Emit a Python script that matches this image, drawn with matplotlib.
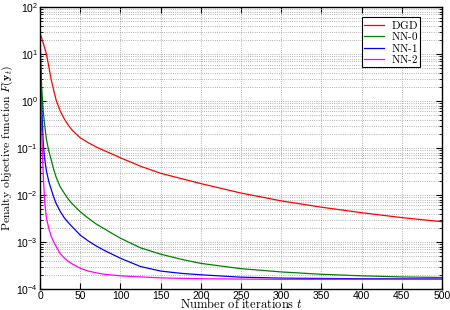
import numpy as np
import matplotlib
matplotlib.use('Agg')
import matplotlib.pyplot as plt
from matplotlib.ticker import LogLocator, MultipleLocator, NullFormatter

plt.rcParams['font.family'] = ['Liberation Sans', 'DejaVu Sans']

t = [0, 1, 2, 4, 6, 8, 11, 14, 17, 20, 25, 30, 35, 40, 50, 60, 70, 80,
     100, 125, 150, 175, 200, 250, 300, 350, 400, 450, 500]

dgd = [27, 25, 22, 17, 13, 10, 5.3, 2.8, 1.7, 1.05, 0.62, 0.42, 0.31, 0.24,
       0.165, 0.13, 0.105, 0.088, 0.062, 0.041, 0.029, 0.0225, 0.0175, 0.011,
       0.0075, 0.0055, 0.0042, 0.0033, 0.0027]
nn0 = [27, 6, 2, 0.6, 0.28, 0.15, 0.085, 0.055, 0.035, 0.024, 0.015, 0.011,
       0.0082, 0.0065, 0.0044, 0.0032, 0.0024, 0.0019, 0.0012, 7.5e-4, 5.5e-4,
       4.3e-4, 3.5e-4, 2.7e-4, 2.3e-4, 2.05e-4, 1.9e-4, 1.8e-4, 1.75e-4]
nn1 = [27, 3, 0.8, 0.12, 0.055, 0.032, 0.019, 0.013, 0.009, 0.0066, 0.0045,
       0.0033, 0.0026, 0.0021, 0.0014, 0.00105, 8.2e-4, 6.6e-4, 4.5e-4, 3e-4,
       2.4e-4, 2.15e-4, 2e-4, 1.78e-4, 1.7e-4, 1.67e-4, 1.65e-4, 1.64e-4, 1.63e-4]
nn2 = [27, 1.5, 0.25, 0.025, 0.0065, 0.0032, 0.0019, 0.0013, 0.001, 8e-4,
       5.7e-4, 4.6e-4, 3.9e-4, 3.4e-4, 2.75e-4, 2.4e-4, 2.2e-4, 2.05e-4, 1.9e-4,
       1.8e-4, 1.72e-4, 1.68e-4, 1.65e-4, 1.62e-4, 1.6e-4, 1.6e-4, 1.6e-4,
       1.6e-4, 1.6e-4]

labels = ['DGD', 'NN-0', 'NN-1', 'NN-2']
colors = ['#ff0000', '#008000', '#0000ff', '#ff00ff']

fig = plt.figure(figsize=(4.5, 3.1), dpi=100)
ax = fig.add_axes([0.089, 0.068, 0.893, 0.909])

for y, lab, c in zip([dgd, nn0, nn1, nn2], labels, colors):
    ax.semilogy(t, y, color=c, linewidth=0.9, label=lab)

ax.set_xlim(0, 500)
ax.set_ylim(1e-4, 1e2)
ax.xaxis.set_major_locator(MultipleLocator(50))
ax.yaxis.set_major_locator(LogLocator(base=10, numticks=10))
ax.yaxis.set_minor_locator(LogLocator(base=10, subs=np.arange(2, 10), numticks=10))
ax.yaxis.set_minor_formatter(NullFormatter())

ax.grid(True, which='major', linestyle=':', color='#999999', linewidth=0.6)
ax.grid(True, which='minor', axis='y', linestyle=':', color='#999999', linewidth=0.6)
ax.tick_params(which='both', direction='in', top=True, right=True, labelsize=7.5,
               pad=1.5)
ax.tick_params(which='major', length=4)
ax.tick_params(which='minor', length=2)
for s in ax.spines.values():
    s.set_linewidth(1.0)

ax.set_xlabel(r'$\mathrm{Number\ of\ iterations}\ t$', fontsize=9,
              math_fontfamily='cm', labelpad=-3)
ax.set_ylabel(r'$\mathrm{Penalty\ objective\ function}\ F(\mathbf{y}_t)$',
              fontsize=8.5, math_fontfamily='cm', labelpad=1)

leg = ax.legend([r'$\mathrm{DGD}$', r'$\mathrm{NN\text{-}0}$',
                 r'$\mathrm{NN\text{-}1}$', r'$\mathrm{NN\text{-}2}$'],
                loc='upper right', bbox_to_anchor=(0.945, 0.965),
                fancybox=False, framealpha=1, edgecolor='black',
                fontsize=8, handlelength=1.8, handletextpad=0.6,
                borderpad=0.15, labelspacing=-0.05, borderaxespad=0)
leg.get_frame().set_linewidth(0.8)
for txt in leg.get_texts():
    txt.set_math_fontfamily('cm')

fig.savefig('out.png', dpi=100)
